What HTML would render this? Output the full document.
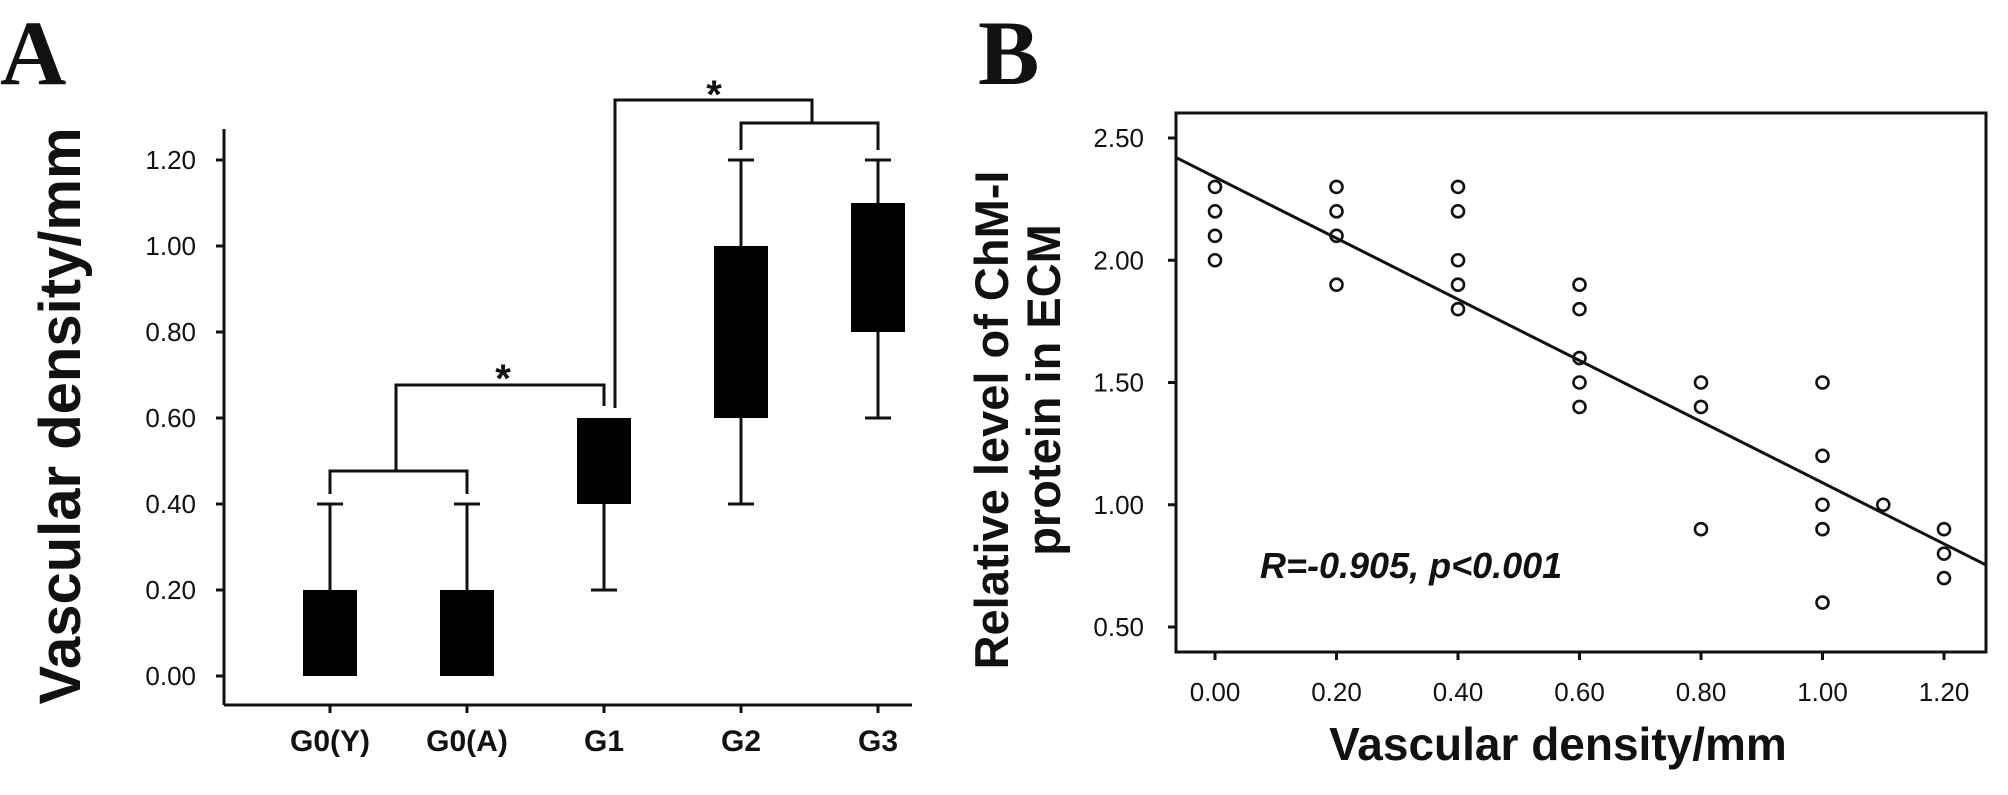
<!DOCTYPE html>
<html><head><meta charset="utf-8"><style>
html,body{margin:0;padding:0;background:#fff;}
svg{display:block;}
text{font-family:"Liberation Sans",sans-serif;fill:#111;}
</style></head><body>
<svg id="fig" width="2008" height="795" viewBox="0 0 2008 795" xmlns="http://www.w3.org/2000/svg">
<text x="0" y="84" font-weight="bold" font-size="92" style="font-family:'Liberation Serif',serif">A</text>
<text x="978" y="84" font-weight="bold" font-size="92" style="font-family:'Liberation Serif',serif">B</text>
<g id="pa"></g>
<g id="pb"></g>
</svg>
<script>
// ---------- Panel A data ----------
const catsA = ["G0(Y)","G0(A)","G1","G2","G3"];
const whiskLo = [0.0,0.0,0.2,0.4,0.6];
const boxLo = [0.0,0.0,0.4,0.6,0.8];
const boxHi = [0.2,0.2,0.6,1.0,1.1];
const whiskHi = [0.4,0.4,0.6,1.2,1.2];
const yTicksA = [0,0.2,0.4,0.6,0.8,1.0,1.2];
const yTickLabelsA = ["0.00","0.20","0.40","0.60","0.80","1.00","1.20"];
// ---------- Panel B data ----------
const xs = [0,0,0,0, 0.2,0.2,0.2,0.2, 0.4,0.4,0.4,0.4,0.4, 0.6,0.6,0.6,0.6,0.6, 0.8,0.8,0.8, 1.0,1.0,1.0,1.0,1.0, 1.1, 1.2,1.2,1.2];
const ys = [2.3,2.2,2.1,2.0, 2.3,2.2,2.1,1.9, 2.3,2.2,2.0,1.9,1.8, 1.9,1.8,1.6,1.5,1.4, 1.5,1.4,0.9, 1.5,1.2,1.0,0.9,0.6, 1.0, 0.9,0.8,0.7];
const fitIntercept = 2.34;
const fitSlope = -1.25;
const xTicksB = [0,0.2,0.4,0.6,0.8,1.0,1.2];
const xTickLabelsB = ["0.00","0.20","0.40","0.60","0.80","1.00","1.20"];
const yTicksB = [0.5,1.0,1.5,2.0,2.5];
const yTickLabelsB = ["0.50","1.00","1.50","2.00","2.50"];

const NS="http://www.w3.org/2000/svg";
function mk(parent,tag,attrs,txt){const e=document.createElementNS(NS,tag);for(const k in attrs)e.setAttribute(k,attrs[k]);if(txt!==undefined)e.textContent=txt;parent.appendChild(e);return e;}

// ---------- Panel A ----------
const pa=document.getElementById('pa');
const yA=v=>676-v*430;
const xA=i=>330+i*137;
const S={stroke:"#111","stroke-width":3,fill:"none"};
let e;
e=mk(pa,'line',Object.assign({x1:224,y1:129,x2:224,y2:705},S));


e=mk(pa,'line',Object.assign({x1:224,y1:705,x2:912,y2:705},S));


yTicksA.forEach((t,i)=>{
  mk(pa,'line',Object.assign({x1:216,y1:yA(t),x2:224,y2:yA(t)},S));
  e=mk(pa,'text',{x:196,y:yA(t)+9,'text-anchor':'end','font-size':26},yTickLabelsA[i]);
  
  
});
catsA.forEach((c,i)=>{
  const x=xA(i);
  mk(pa,'line',Object.assign({x1:x,y1:705,x2:x,y2:713},S));
  e=mk(pa,'text',{x:x,y:751,'text-anchor':'middle','font-size':30,'font-weight':'bold'},c);
  
  
  const g=mk(pa,'g',{});
  
  
  mk(g,'line',Object.assign({x1:x,y1:yA(whiskLo[i]),x2:x,y2:yA(whiskHi[i])},S));
  if(whiskHi[i]>boxHi[i]) mk(g,'line',Object.assign({x1:x-13,y1:yA(whiskHi[i]),x2:x+13,y2:yA(whiskHi[i])},S));
  if(whiskLo[i]<boxLo[i]) mk(g,'line',Object.assign({x1:x-13,y1:yA(whiskLo[i]),x2:x+13,y2:yA(whiskLo[i])},S));
  mk(g,'rect',{x:x-27,y:yA(boxHi[i]),width:54,height:yA(boxLo[i])-yA(boxHi[i]),fill:"#000"});
});
const br=mk(pa,'g',{});


const P=(d)=>mk(br,'path',Object.assign({d:d},S));
P(`M${xA(0)} 494 V471 H${xA(1)} V494`);
P(`M396 471 V385 H${xA(2)} V406`);
P(`M${xA(3)} 150 V123 H${xA(4)} V150`);
P(`M812 123 V100 H615 V408`);
mk(br,'text',{x:503,y:392,'text-anchor':'middle','font-size':40,'font-weight':'bold'},"*");
mk(br,'text',{x:714,y:108,'text-anchor':'middle','font-size':40,'font-weight':'bold'},"*");
e=mk(pa,'text',{x:0,y:0,transform:'translate(80,416) rotate(-90)','text-anchor':'middle','font-size':58,'font-weight':'bold'},"Vascular density/mm");



// ---------- Panel B ----------
const pb=document.getElementById('pb');
const xB=v=>1215+v*(729/1.2);
const yB=v=>627-(v-0.5)*244.5;
e=mk(pb,'rect',{x:1176,y:113,width:810,height:539,fill:"none",stroke:"#111","stroke-width":3});


yTicksB.forEach((t,i)=>{
  mk(pb,'line',Object.assign({x1:1168,y1:yB(t),x2:1176,y2:yB(t)},S));
  e=mk(pb,'text',{x:1144,y:yB(t)+9,'text-anchor':'end','font-size':26},yTickLabelsB[i]);
  
  
});
xTicksB.forEach((t,i)=>{
  mk(pb,'line',Object.assign({x1:xB(t),y1:652,x2:xB(t),y2:660},S));
  e=mk(pb,'text',{x:xB(t),y:701,'text-anchor':'middle','font-size':26},xTickLabelsB[i]);
  
  
});
const xl=-0.064, xr=1.27;
e=mk(pb,'line',{x1:xB(xl),y1:yB(fitIntercept+fitSlope*xl),x2:xB(xr),y2:yB(fitIntercept+fitSlope*xr),stroke:"#111","stroke-width":3});


xs.forEach((x,i)=>{
  const c=mk(pb,'circle',{cx:xB(x),cy:yB(ys[i]),r:6,fill:"none",stroke:"#111","stroke-width":2.6});
  
  
});
e=mk(pb,'text',{x:1260,y:578,'font-size':36,'font-weight':'bold','font-style':'italic'},"R=-0.905, p<0.001");


e=mk(pb,'text',{x:1558,y:760,'text-anchor':'middle','font-size':46,'font-weight':'bold'},"Vascular density/mm");


e=mk(pb,'text',{x:0,y:0,transform:'translate(1008,420) rotate(-90)','text-anchor':'middle','font-size':47,'font-weight':'bold'},"Relative level of ChM-I");


e=mk(pb,'text',{x:0,y:0,transform:'translate(1060,390) rotate(-90)','text-anchor':'middle','font-size':47,'font-weight':'bold'},"protein in ECM");


</script>
</body></html>
